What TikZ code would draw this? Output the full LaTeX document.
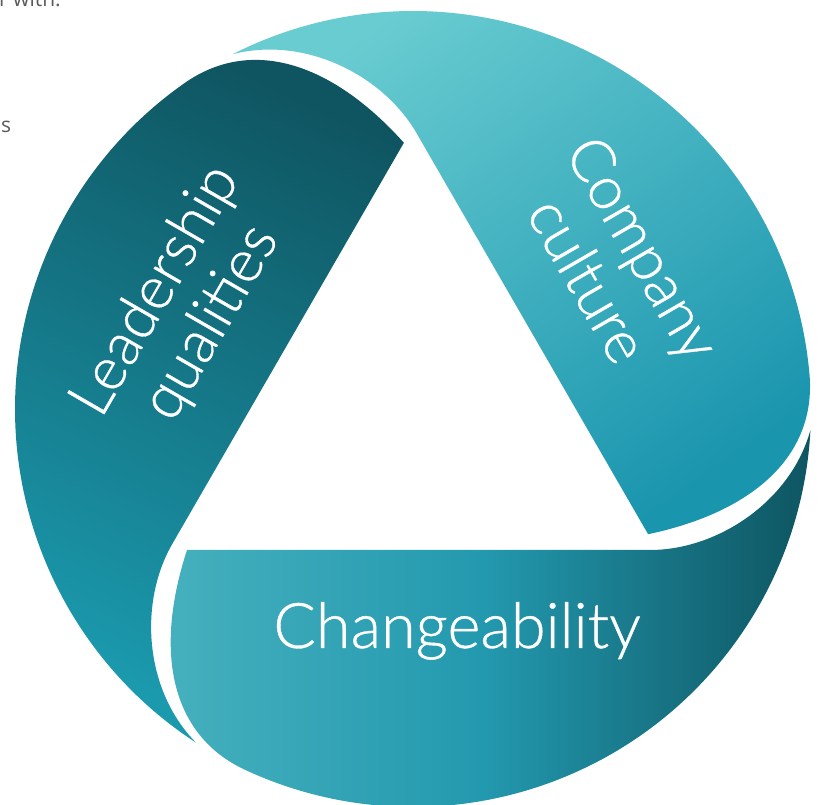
\documentclass[tikz,border=0pt]{standalone}
\usepackage{fontspec}
\IfFontExistsTF{Lato Light}
  {\newfontfamily\bandfont{Lato Light}[FakeBold=0.6,AutoFakeBold=0.6]}
  {\newfontfamily\bandfont{Lato}}
\newfontfamily\pagefont{Open Sans}
\definecolor{pagegray}{HTML}{5A5A5A}
\definecolor{chgLight}{HTML}{47B1BE}
\definecolor{chgMid}{HTML}{2399AF}
\definecolor{chgDark}{HTML}{0E5561}
\definecolor{leadDark}{HTML}{0F5561}
\definecolor{leadLight}{HTML}{1B9AAE}
\definecolor{cultLight}{HTML}{69CCD1}
\definecolor{cultDark}{HTML}{1A95AE}
\tikzset{
  bandlabel/.style={text=white, font=\bandfont\bfseries\fontsize{60}{64}\selectfont,
    align=center, inner sep=0pt},
  pagetext/.style={text=pagegray, font=\pagefont\fontsize{21}{25}\selectfont,
    inner sep=0pt}
}
\begin{document}
\begin{tikzpicture}[x=1pt,y=1pt]
\useasboundingbox (0,0) rectangle (822,805);
\clip (0,0) rectangle (822,805);
\coordinate (O) at (413,396);
% one band is laid out below the centre; the other two are the same
% outline turned by 120 degrees about the centre
\foreach \bnd/\rot in {b/0, l/-120, r/120}{
  \begin{scope}[shift={(O)}, rotate=\rot]
    \coordinate (\bnd A)  at (-226,-141);   % inner corner, rounded end
    \coordinate (\bnd B)  at (237,-141);    % inner corner, hollow end
    \coordinate (\bnd B1) at (305,-141);
    \coordinate (\bnd B2) at (378,-92);
    \coordinate (\bnd T)  at (-3.03:398);   % pointed tip on the rim
    \coordinate (\bnd N)  at (-115:398);    % rounded end leaves the rim
    \coordinate (\bnd N1) at (-240.7,-326.9);
    \coordinate (\bnd N2) at (-260.1,-245.5);
  \end{scope}
}
% Changeability
\shade[left color=chgLight, right color=chgDark, middle color=chgMid]
  (bA) -- (bB) .. controls (bB1) and (bB2) .. (bT)
  arc[start angle=-3.03, end angle=-115, radius=398]
  .. controls (bN1) and (bN2) .. (bA) -- cycle;
% Leadership qualities
\shade[top color=leadDark, bottom color=leadLight, shading angle=-25]
  (lA) -- (lB) .. controls (lB1) and (lB2) .. (lT)
  arc[start angle=-123.03, end angle=-235, radius=398]
  .. controls (lN1) and (lN2) .. (lA) -- cycle;
% Company culture
\shade[top color=cultLight, bottom color=cultDark, shading angle=35]
  (rA) -- (rB) .. controls (rB1) and (rB2) .. (rT)
  arc[start angle=116.97, end angle=5, radius=398]
  .. controls (rN1) and (rN2) .. (rA) -- cycle;

\node[bandlabel, font=\bandfont\bfseries\fontsize{63}{66}\selectfont, anchor=base]
  (chg) at (457,157) {Changeability};
\node[bandlabel, rotate=-60] (cult) at (616,541) {Company\\culture};
\node[bandlabel, rotate=60] (lead) at (184,498) {Leadership\\qualities};

\node[pagetext, anchor=base west] (pg1) at (-1,798) {r with.};
\node[pagetext, anchor=base west] (pg2) at (1,672) {s};
\end{tikzpicture}
\end{document}
